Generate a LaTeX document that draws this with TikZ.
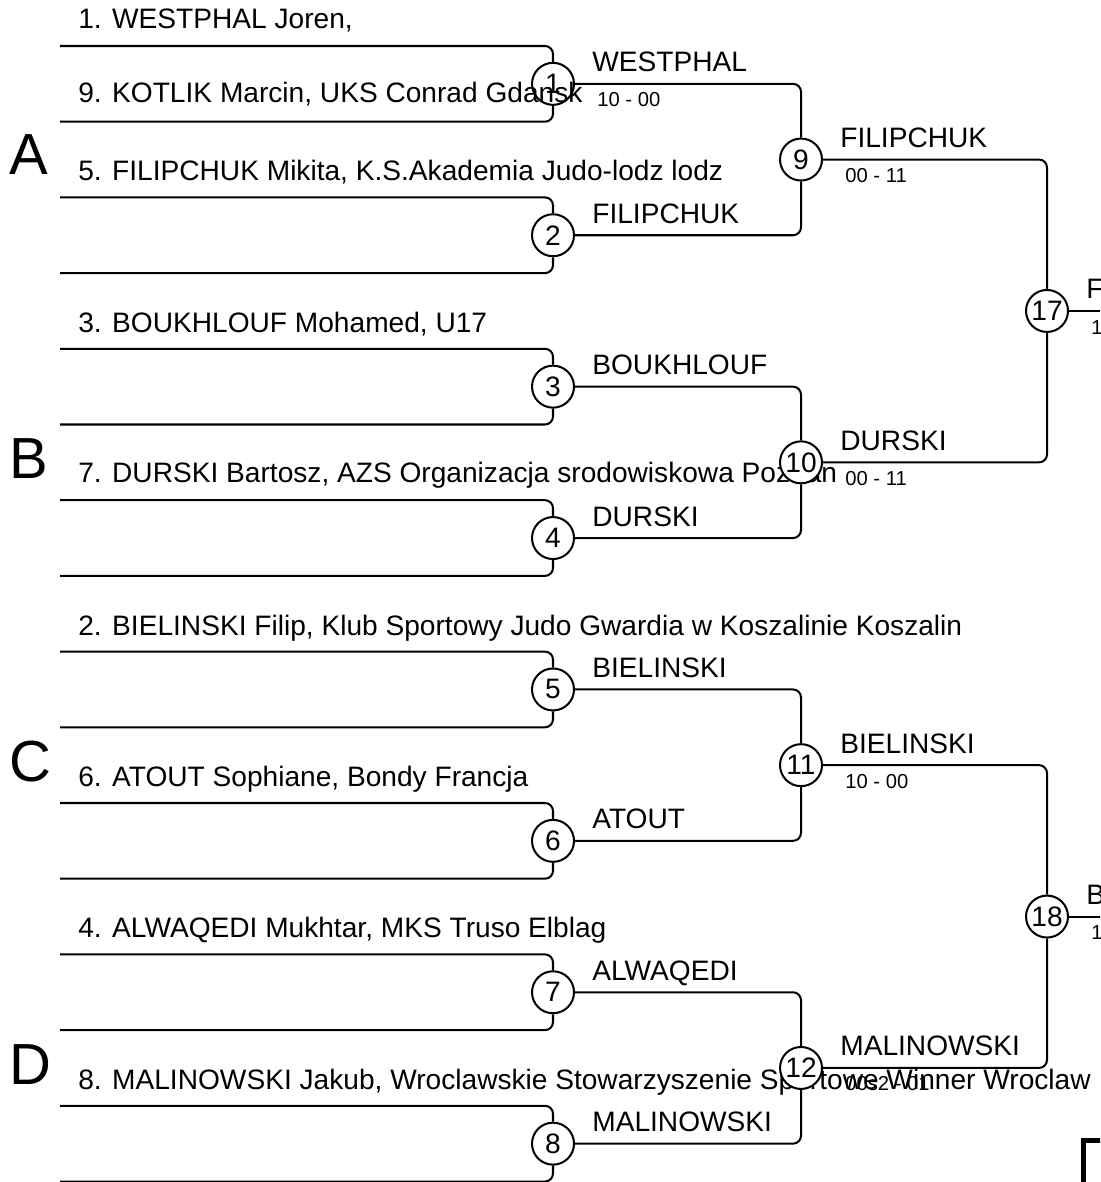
\documentclass[tikz,border=0pt]{standalone}
\usepackage{fontspec}
\setmainfont{Liberation Sans}

\begin{document}
\begin{tikzpicture}[x=0.02cm,y=-0.02cm,
  every node/.style={font=\fontsize{16}{19}\selectfont},
  bracket/.style={line width=1.15pt,rounded corners=0.16cm},
  bout/.style={circle,draw,line width=1.15pt,fill=white,minimum size=0.84cm,inner sep=0pt},
  seed/.style={anchor=base west,inner sep=0pt},
  winner/.style={anchor=base west,inner sep=0pt},
  score/.style={anchor=base west,inner sep=0pt,font=\fontsize{11.5}{14}\selectfont},
  pool/.style={anchor=base west,inner sep=0pt,font=\fontsize{33}{40}\selectfont}]
  \path[use as bounding box,clip] (0,0) rectangle (1100,1182);

  % first round
  \foreach \k in {1,...,8}{
    \pgfmathsetmacro\ytop{46+151.4*(\k-1)}
    \coordinate (top\k) at (60,\ytop);
    \coordinate (bot\k) at (60,\ytop+75.7);
    \node[bout] (m\k) at (553,\ytop+37.85) {\k};
    \draw[bracket] (top\k) -| (m\k);
    \draw[bracket] (bot\k) -| (m\k);
  }

  \node[seed] (s1) at (78,29) {1. WESTPHAL Joren,};
  \node[seed] (s9) at (78,103) {9. KOTLIK Marcin, UKS Conrad Gdansk};
  \node[seed] (s5) at (78,181) {5. FILIPCHUK Mikita, K.S.Akademia Judo-lodz lodz};
  \node[seed] (s3) at (78,332) {3. BOUKHLOUF Mohamed, U17};
  \node[seed] (s7) at (78,482) {7. DURSKI Bartosz, AZS Organizacja srodowiskowa Poznan};
  \node[seed] (s2) at (78,635) {2. BIELINSKI Filip, Klub Sportowy Judo Gwardia w Koszalinie Koszalin};
  \node[seed] (s6) at (78,786) {6. ATOUT Sophiane, Bondy Francja};
  \node[seed] (s4) at (78,937) {4. ALWAQEDI Mukhtar, MKS Truso Elblag};
  \node[seed] (s8) at (78,1089) {8. MALINOWSKI Jakub, Wroclawskie Stowarzyszenie Sportowe Winner Wroclaw};

  \node[pool] (poolA) at (9,175) {A};
  \node[pool] (poolB) at (9,478) {B};
  \node[pool] (poolC) at (9,781) {C};
  \node[pool] (poolD) at (9,1084) {D};

  \foreach \k/\who in {1/WESTPHAL,2/FILIPCHUK,3/BOUKHLOUF,4/DURSKI,
                       5/BIELINSKI,6/ATOUT,7/ALWAQEDI,8/MALINOWSKI}{
    \node[winner] (w\k) at (592,71.85+151.4*\k-151.4) {\who};
  }
  \node[score] (r1) at (597,107) {10 - 00};

  % second round
  \node[bout] (m9) at (801,159.55) {9};
  \node[bout] (m10) at (801,462.35) {10};
  \node[bout] (m11) at (801,765.15) {11};
  \node[bout] (m12) at (801,1067.95) {12};
  \draw[bracket] (m1) -| (m9);
  \draw[bracket] (m2) -| (m9);
  \draw[bracket] (m3) -| (m10);
  \draw[bracket] (m4) -| (m10);
  \draw[bracket] (m5) -| (m11);
  \draw[bracket] (m6) -| (m11);
  \draw[bracket] (m7) -| (m12);
  \draw[bracket] (m8) -| (m12);

  \node[winner] (w9) at (840,147.55) {FILIPCHUK};
  \node[winner] (w10) at (840,450.35) {DURSKI};
  \node[winner] (w11) at (840,753.15) {BIELINSKI};
  \node[winner] (w12) at (840,1055.95) {MALINOWSKI};
  \node[score] (r9) at (845,182.55) {00 - 11};
  \node[score] (r10) at (845,485.35) {00 - 11};
  \node[score] (r11) at (845,788.15) {10 - 00};
  \node[score] (r12) at (845,1090.95) {00s2 - 01};

  % semi finals
  \node[bout] (m17) at (1047,310.95) {17};
  \node[bout] (m18) at (1047,916.55) {18};
  \draw[bracket] (m9) -| (m17);
  \draw[bracket] (m10) -| (m17);
  \draw[bracket] (m11) -| (m18);
  \draw[bracket] (m12) -| (m18);
  \coordinate (out17) at (1120,310.95);
  \coordinate (out18) at (1120,916.55);
  \draw[bracket] (m17) -- (out17);
  \draw[bracket] (m18) -- (out18);
  \node[winner] (w17) at (1086,298.95) {FILIPCHUK};
  \node[winner] (w18) at (1086,904.55) {BIELINSKI};
  \node[score] (r17) at (1091,334) {10 - 00};
  \node[score] (r18) at (1091,939.5) {10 - 00};

  \draw[line width=0.1cm] (1083.5,1200) -- (1083.5,1140) -- (1120,1140);
\end{tikzpicture}
\end{document}
